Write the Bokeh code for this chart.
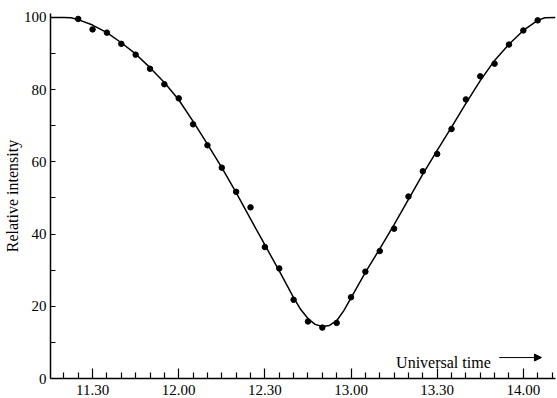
from bokeh.plotting import figure
from bokeh.models import Range1d, FixedTicker, Label, Arrow, NormalHead
from bokeh.embed import file_html
from bokeh.resources import INLINE

# ---- data (time in minutes after 11:00 UT) ----
point_minutes = [25, 30, 35, 40, 45, 50, 55, 60, 65, 70, 75, 80, 85, 90, 95, 100,
                 105, 110, 115, 120, 125, 130, 135, 140, 145, 150, 155, 160, 165,
                 170, 175, 180, 185]
point_values = [99.6, 96.7, 95.8, 92.7, 89.7, 85.8, 81.5, 77.6, 70.4, 64.6, 58.4,
                51.7, 47.4, 36.4, 30.5, 21.8, 15.8, 14.1, 15.4, 22.5, 29.6, 35.3,
                41.5, 50.4, 57.4, 62.2, 69.1, 77.3, 83.7, 87.2, 92.5, 96.4, 99.2]

curve_minutes = [15.35, 20, 22.5, 25, 30, 35, 40, 45, 50, 55, 60, 65, 70, 75, 80,
                 85, 90, 95, 100, 102.5, 105, 107.5, 110, 112.5, 115, 117.5, 120,
                 125, 130, 135, 140, 145, 150, 155, 160, 165, 170, 175, 180, 185,
                 187.5, 191.2]
curve_values = [100, 100, 99.9, 99.4, 97.9, 95.8, 93.0, 89.9, 86.1, 82.0, 77.2,
                71.2, 64.9, 58.4, 51.5, 44.2, 37.0, 29.8, 22.4, 19.1, 16.6, 15.0,
                14.4, 14.7, 16.0, 18.8, 22.3, 29.4, 35.9, 42.6, 49.6, 56.6, 63.2,
                69.6, 76.2, 82.5, 88.1, 92.6, 96.4, 99.2, 99.9, 100]

x_tick_minutes = [30, 60, 90, 120, 150, 180]
x_tick_labels = ["11.30", "12.00", "12.30", "13.00", "13.30", "14.00"]
x_minor_minutes = [20, 25, 35, 40, 45, 50, 55, 65, 70, 75, 80, 85, 95, 100, 105,
                   110, 115, 125, 130, 135, 140, 145, 155, 160, 165, 170, 175,
                   185, 190]
y_ticks = [0, 20, 40, 60, 80, 100]
y_minor = [10, 30, 50, 70, 90]

SERIF = "Liberation Serif"

p = figure(width=557, height=398, output_backend="svg", toolbar_location=None,
           x_range=Range1d(15.35, 191.2), y_range=Range1d(0, 101.1),
           min_border_top=13, min_border_right=2, min_border_left=50,
           min_border_bottom=20)
p.outline_line_color = None
p.grid.visible = False
p.background_fill_color = "white"
p.border_fill_color = "white"

p.line(curve_minutes, curve_values, line_color="black", line_width=1.5)
p.scatter(point_minutes, point_values, size=5.5, fill_color="black",
          line_color="black")

# x axis
xa = p.xaxis[0]
xa.ticker = FixedTicker(ticks=x_tick_minutes, minor_ticks=x_minor_minutes)
xa.major_label_overrides = {t: l for t, l in zip(x_tick_minutes, x_tick_labels)}
xa.major_tick_in = 10
xa.major_tick_out = 0
xa.minor_tick_in = 6
xa.minor_tick_out = 0
xa.axis_line_width = 1.5
xa.major_tick_line_width = 1.2
xa.minor_tick_line_width = 1.2
xa.major_label_standoff = 6
xa.major_label_text_font = SERIF
xa.major_label_text_font_size = "15px"
xa.major_label_text_color = "black"

# y axis
ya = p.yaxis[0]
ya.ticker = FixedTicker(ticks=y_ticks, minor_ticks=y_minor)
ya.major_tick_in = 5
ya.major_tick_out = 0
ya.minor_tick_in = 5
ya.minor_tick_out = 0
ya.axis_line_width = 1.5
ya.major_tick_line_width = 1.2
ya.minor_tick_line_width = 1.2
ya.major_label_standoff = 4
ya.major_label_text_font = SERIF
ya.major_label_text_font_size = "15px"
ya.major_label_text_color = "black"
ya.axis_label = "Relative intensity"
ya.axis_label_text_font = SERIF
ya.axis_label_text_font_style = "normal"
ya.axis_label_text_font_size = "16px"
ya.axis_label_text_color = "black"
ya.axis_label_standoff = 0

# "Universal time ->" annotation
p.add_layout(Label(x=135.7, y=4.4, text="Universal time", text_font=SERIF,
                   text_font_size="16px", text_color="black",
                   text_baseline="alphabetic"))
p.add_layout(Arrow(end=NormalHead(size=7, fill_color="black", line_color="black"),
                   x_start=171.6, y_start=5.8, x_end=186.3, y_end=5.8,
                   line_color="black", line_width=1))

open("out.html", "w").write(file_html(p, INLINE))
